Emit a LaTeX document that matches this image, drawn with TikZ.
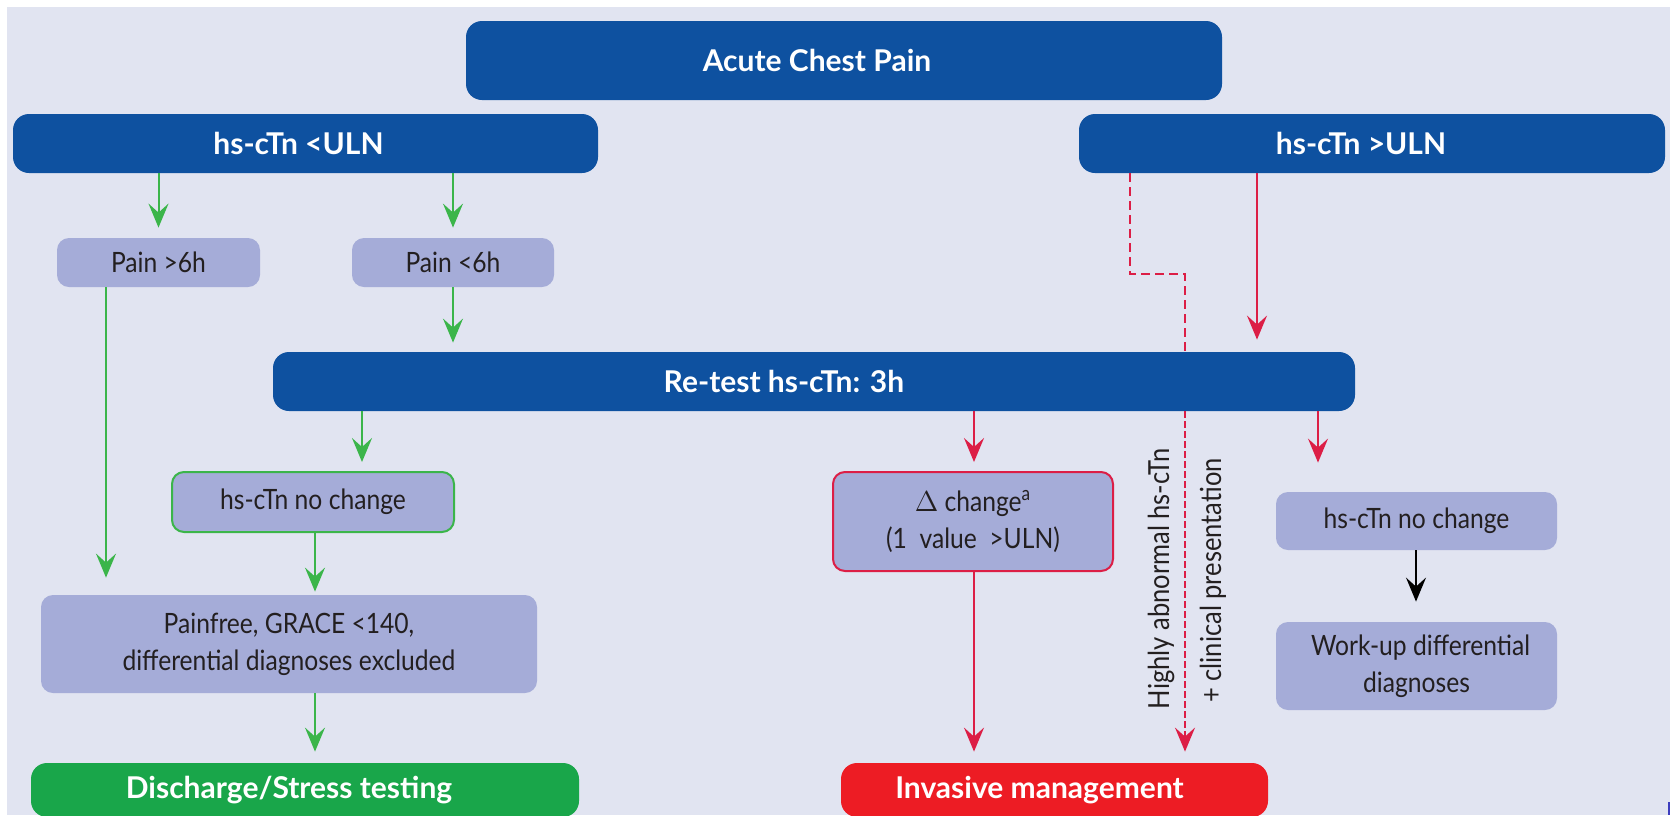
\documentclass[tikz,border=0pt]{standalone}
\usepackage{fontspec}
\setmainfont{Lato}[FakeStretch=0.88]
\newfontfamily\hdrfont{Lato}
\usetikzlibrary{arrows.meta,calc}
\definecolor{bgc}{RGB}{225,228,241}
\definecolor{dblue}{RGB}{14,81,160}
\definecolor{lbox}{RGB}{165,172,216}
\definecolor{txt}{RGB}{35,31,32}
\definecolor{garrow}{RGB}{59,181,74}
\definecolor{gfill}{RGB}{25,166,74}
\definecolor{rarrow}{RGB}{220,30,70}
\definecolor{rfill}{RGB}{237,28,36}
\definecolor{markblue}{RGB}{60,60,190}
\tikzset{
  hdr/.style={text=white, font=\hdrfont\bfseries\fontsize{15}{18}\selectfont, inner sep=0pt},
  dark/.style={fill=dblue, rounded corners=8pt, inner sep=0pt},
  lite/.style={fill=lbox, rounded corners=6pt, inner sep=0pt, text=txt, align=center,
    font=\fontsize{14}{18.5}\selectfont},
  vtext/.style={text=txt, align=center, rotate=90, inner sep=0pt, font=\fontsize{14.5}{18.5}\selectfont},
  tip/.style={-{Stealth[length=12pt,width=10pt,inset=4.5pt]}},
  garr/.style={draw=garrow, line width=1pt, tip},
  rarr/.style={draw=rarrow, line width=1pt, tip},
  karr/.style={draw=black, line width=1pt, tip},
  rdash/.style={draw=rarrow, line width=1pt, dash pattern=on 4.5pt off 2.5pt},
  rdashfine/.style={draw=rarrow, line width=1pt, dash pattern=on 3.5pt off 1.5pt, tip},
}
\begin{document}
\begin{tikzpicture}[x=0.5pt,y=-0.5pt]
\path[use as bounding box] (0,0) rectangle (1670,815);
\clip (0,0) rectangle (1670,815);
\fill[white] (0,0) rectangle (1670,815);
\fill[bgc] (7,7) rectangle (1670,815);

% boxes
\node[dark, minimum width=378pt, minimum height=39.5pt,
  label={[hdr, xshift=-13.5pt]center:Acute Chest Pain}] (acp) at (844,60.5) {};
\node[dark, minimum width=292.5pt, minimum height=29.5pt,
  label={[hdr, xshift=-3.5pt]center:hs-cTn <ULN}] (uln) at (305.5,143.5) {};
\node[dark, minimum width=293pt, minimum height=29.5pt,
  label={[hdr, xshift=-5.5pt]center:hs-cTn >ULN}] (guln) at (1372,143.5) {};
\node[lite, minimum width=101.5pt, minimum height=24.5pt] (p6g) at (158.5,262.5) {Pain >6h};
\node[lite, minimum width=101pt, minimum height=24.5pt] (p6l) at (453,262.5) {Pain <6h};
\node[dark, minimum width=541pt, minimum height=29.5pt,
  label={[hdr, xshift=-15pt]center:Re-test hs-cTn: 3h}] (retest) at (814,381.5) {};
\node[lite, draw=garrow, line width=1pt, minimum width=141pt, minimum height=30pt] (ncl) at (313,502) {hs-cTn no change};
\node[lite, minimum width=248pt, minimum height=49pt] (pf) at (289,644) {Painfree, GRACE <140,\\differential diagnoses excluded};
\node[fill=gfill, rounded corners=8pt, inner sep=0pt, minimum width=274pt, minimum height=27pt,
  label={[hdr, xshift=-8pt]center:Discharge/Stress testing}] (dis) at (305,790) {};
\node[lite, draw=rarrow, line width=1pt, minimum width=140pt, minimum height=49.5pt] (dch) at (973,521.5)
  {$\Delta$ change\textsuperscript{a}\\(1\ \ value\ \ >ULN)};
\node[fill=rfill, rounded corners=8pt, inner sep=0pt, minimum width=213.5pt, minimum height=27pt,
  label={[hdr, xshift=-7.5pt]center:Invasive management}] (inv) at (1054.5,790) {};
\node[lite, minimum width=140.5pt, minimum height=29pt] (ncr) at (1416.5,521) {hs-cTn no change};
\node[lite, minimum width=140.5pt, minimum height=44pt] (wu) at (1416.5,666) {\hspace*{4pt}Work-up differential\\diagnoses};

% rotated texts
\node[vtext] (hab) at (1161,579) {Highly abnormal hs-cTn};
\node[vtext] (clin) at (1213,580.5) {+ clinical presentation};

% column coordinates
\coordinate (xa) at (106,0);
\coordinate (xb) at (362,0);
\coordinate (xc) at (315,0);
\coordinate (xd) at (1130,0);
\coordinate (xe) at (1185,0);
\coordinate (xf) at (1257,0);
\coordinate (xg) at (974,0);
\coordinate (xh) at (1318,0);
\coordinate (xi) at (1416,0);
\coordinate (dk1) at (1130,274);
\coordinate (dk2) at (1185,274);

% green arrows
\draw[garr, shorten >=5pt] (uln.south -| p6g) -- (p6g.north);
\draw[garr, shorten >=5pt] (uln.south -| p6l) -- (p6l.north);
\draw[garr, shorten >=8.5pt] (p6g.south -| xa) -- (pf.north -| xa);
\draw[garr, shorten >=4.5pt] (p6l.south) -- (retest.north -| p6l);
\draw[garr, shorten >=4.5pt] (retest.south -| xb) -- (ncl.north -| xb);
\draw[garr, shorten >=1.5pt] (ncl.south -| xc) -- (pf.north -| xc);
\draw[garr, shorten >=5.5pt] (pf.south -| xc) -- (dis.north -| xc);

% red arrows
\draw[rarr, shorten >=6pt] (guln.south -| xf) -- (retest.north -| xf);
\draw[rdash] (guln.south -| xd) -- (dk1) -- (dk2) -- (retest.north -| xe);
\draw[rdashfine, shorten >=5.5pt] (retest.south -| xe) -- (inv.north -| xe);
\draw[rarr, shorten >=4.5pt] (retest.south -| xg) -- (dch.north -| xg);
\draw[rarr, shorten >=5.5pt] (dch.south -| xg) -- (inv.north -| xg);
\draw[rarr, shorten >=14.5pt] (retest.south -| xh) -- (ncr.north -| xh);

% black arrow
\draw[karr, shorten >=10pt] (ncr.south -| xi) -- (wu.north -| xi);

% small mark at bottom right
\fill[markblue] (1668,802) rectangle (1670,815);
\end{tikzpicture}
\end{document}
